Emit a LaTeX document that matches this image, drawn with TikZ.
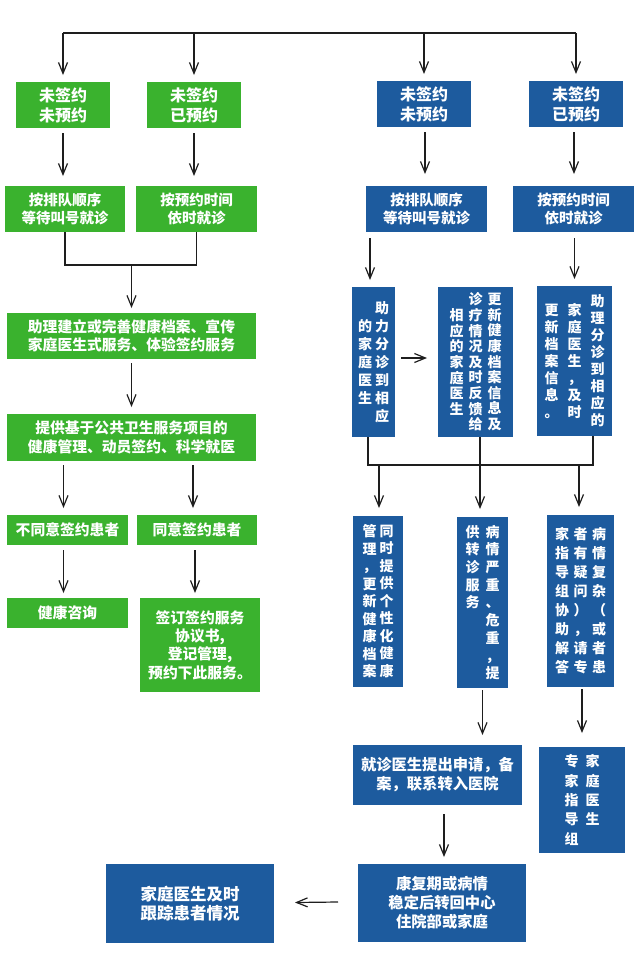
\documentclass[tikz,border=0pt]{standalone}
\usepackage{fontspec}
\setmainfont{Noto Sans CJK SC}
\usetikzlibrary{arrows.meta,calc}
\definecolor{gfill}{RGB}{58,178,46}
\definecolor{bfill}{RGB}{29,91,158}
\definecolor{lncol}{RGB}{30,30,30}
\makeatletter
\def\vst@ck#1{\ifx#1\@nil\else\hbox to 1em{\hss#1\hss}\expandafter\vst@ck\fi}
\newcommand\vcolc[2]{$\vcenter{\baselineskip=#1pt\lineskiplimit=-20pt\vst@ck#2\@nil}$}
\newcommand\vcolt[2]{\vtop{\baselineskip=#1pt\lineskiplimit=-20pt\vst@ck#2\@nil}}
\makeatother
\begin{document}
\begin{tikzpicture}[x=1pt,y=-1pt,
  box/.style={inner sep=0pt, outer sep=0pt, text=white, align=center},
  gbox/.style={box, fill=gfill},
  bbox/.style={box, fill=bfill},
  vbox/.style={inner sep=0pt, outer sep=0pt, text=white, fill=bfill, font=\bfseries\fontsize{14}{17}\selectfont},
  fA/.style={font=\bfseries\fontsize{16}{20}\selectfont},
  fB/.style={font=\bfseries\fontsize{14.5}{17.5}\selectfont},
  fC/.style={font=\bfseries\fontsize{14.8}{18.3}\selectfont},
  fD/.style={font=\bfseries\fontsize{15.3}{19}\selectfont},
  fE/.style={font=\bfseries\fontsize{16.5}{19.5}\selectfont},
  arr/.style={-{Straight Barb[length=11pt,width=9pt]}, line width=1.2pt, draw=lncol},
  ln/.style={line width=1.2pt, draw=lncol}]
\useasboundingbox (0,0) rectangle (640,975);

% ---- green column ----
\node[gbox,fA,minimum width=94pt,minimum height=46pt] (g1) at (63,105) {未签约\\未预约};
\node[gbox,fA,minimum width=94pt,minimum height=46pt] (g2) at (194,105) {未签约\\已预约};
\node[gbox,fB,minimum width=120pt,minimum height=46pt] (g3) at (65,209) {按排队顺序\\等待叫号就诊};
\node[gbox,fB,minimum width=121pt,minimum height=46pt] (g4) at (196.5,209) {按预约时间\\依时就诊};
\node[gbox,fC,minimum width=249pt,minimum height=46pt] (g5) at (131.5,336) {助理建立或完善健康档案、宣传\\家庭医生式服务、体验签约服务};
\node[gbox,fC,minimum width=249pt,minimum height=47pt] (g6) at (131.5,437.5) {提供基于公共卫生服务项目的\\健康管理、动员签约、科学就医};
\node[gbox,fC,minimum width=121pt,minimum height=30pt] (g7) at (67.5,530) {不同意签约患者};
\node[gbox,fC,minimum width=120pt,minimum height=30pt] (g8) at (197,530) {同意签约患者};
\node[gbox,fC,minimum width=121pt,minimum height=30pt] (g9) at (67.5,613) {健康咨询};
\node[gbox,fC,minimum width=120pt,minimum height=94pt] (g10) at (200,645) {签订签约服务\\协议书,\\登记管理,\\预约下此服务。};

% ---- blue column ----
\node[bbox,fA,minimum width=94pt,minimum height=46pt] (b1) at (424,104) {未签约\\未预约};
\node[bbox,fA,minimum width=94pt,minimum height=46pt] (b2) at (576,104) {未签约\\已预约};
\node[bbox,fB,minimum width=121pt,minimum height=46pt] (b3) at (426.5,209) {按排队顺序\\等待叫号就诊};
\node[bbox,fB,minimum width=121pt,minimum height=46pt] (b4) at (573.5,209) {按预约时间\\依时就诊};

\node[vbox,minimum width=43pt,minimum height=150pt] (vA) at (373.5,362) {\vcolc{18}{的家庭医生}\kern3pt\vcolc{18}{助力分诊到相应}};
\node[vbox,minimum width=75pt,minimum height=150pt] (vB) at (475.5,362) {\vcolc{15.6}{相应的家庭医生}\kern5pt\vcolc{15.6}{诊疗情况及时反馈给}\kern5pt\vcolc{15.6}{更新健康档案信息及}};
\node[vbox,minimum width=75pt,minimum height=150pt] (vC) at (574.5,361) {\vcolc{17}{更新档案信息。}\kern9pt\vcolc{17}{家庭医生，及时}\kern9pt\vcolc{17}{助理分诊到相应的}};

\node[vbox,minimum width=50pt,minimum height=171pt] (vD) at (378,601.5) {\vcolc{17.5}{管理，更新健康档案}\kern3pt\vcolc{17.5}{同时提供个性化健康}};
\node[vbox,minimum width=51pt,minimum height=171pt] (vE) at (482.5,602.5) {\vcolt{17.7}{供转诊服务}\kern6pt\vcolt{17.7}{病情严重、危重，提}};
\node[vbox,minimum width=67pt,minimum height=172pt] (vF) at (580.5,601) {\vcolc{19}{家指导组协助解答}\kern4.5pt\vcolc{19}{者有疑问），请专}\kern4.5pt\vcolc{19}{病情复杂（或者患}};

\node[bbox,fD,minimum width=169pt,minimum height=60pt] (b5) at (437.5,775) {就诊医生提出申请，备\\案，联系转入医院};
\node[vbox,minimum width=86pt,minimum height=106pt] (vG) at (582,800) {\vcolt{19.3}{专家指导组}\kern7pt\vcolt{19.3}{家庭医生}};
\node[bbox,fD,minimum width=168pt,minimum height=78pt] (b6) at (442,903) {康复期或病情\\稳定后转回中心\\住院部或家庭};
\node[bbox,fE,minimum width=168pt,minimum height=79pt] (b7) at (190,903.5) {家庭医生及时\\跟踪患者情况};

% ---- connectors ----
\coordinate (top) at (0,33);
\draw[ln] (g1.north |- top) -- (b2.north |- top);
\foreach \n in {g1,g2,b1,b2} \draw[arr] (\n.north |- top) -- ($(\n.north)+(0,-7)$);

\draw[arr] ($(g1.south)+(0,5)$) -- ($(g1.south |- g3.north)+(0,-10)$);
\draw[arr] ($(g2.south)+(0,5)$) -- ($(g2.south |- g4.north)+(0,-10)$);
\draw[arr] ($(b1.south)+(1,5)$) -- ($(b1.south |- b3.north)+(1,-12)$);
\draw[arr] ($(b2.south)+(-2,5)$) -- ($(b2.south |- b4.north)+(-2,-12)$);

\coordinate (j1) at ($(g3.south)+(0,33)$);
\draw[ln] (g3.south) -- (j1) -| (g4.south);
\draw[arr] (g5.north |- j1) -- ($(g5.north)+(0,-5)$);
\draw[arr] ($(g5.south)+(0,4)$) -- ($(g6.north)+(0,-7)$);
\draw[arr] ($(g6.south -| g7.north)+(-4,4)$) -- ($(g7.north)+(-4,-7)$);
\draw[arr] ($(g6.south -| g8.north)+(-4,4)$) -- ($(g8.north)+(-4,-7)$);
\draw[arr] ($(g7.south)+(-4,5)$) -- ($(g9.north)+(-4,-5)$);
\draw[arr] ($(g8.south)+(-2,5)$) -- ($(g8.south |- g10.north)+(-2,-5)$);

\draw[arr] ($(b3.south -| vA.north)+(-3.5,6)$) -- ($(vA.north)+(-3.5,-7)$);
\draw[arr] ($(b4.south -| vC.north)+(0,6)$) -- ($(vC.north)+(0,-7)$);
\draw[arr] ($(vA.east)+(6,-4)$) -- ($(vB.west)+(-11,-4)$);

\coordinate (busL) at ($(vA.south)+(-5.5,28)$);
\coordinate (busR) at ($(vC.south)+(18.5,29)$);
\draw[ln] ($(vA.south)+(-5.5,0)$) -- (busL) -- (busR) -- ($(vC.south)+(18.5,0)$);
\draw[ln] ($(vB.south)+(4.5,0)$) -- ($(vB.south)+(4.5,28)$);
\draw[arr] ($(vD.north |- busL)+(1,0)$) -- ($(vD.north)+(1,-8)$);
\draw[arr] ($(vE.north |- busL)+(-2.5,0)$) -- ($(vE.north)+(-2.5,-8)$);
\draw[arr] ($(vF.north |- busL)+(-1.5,0)$) -- ($(vF.north)+(-1.5,-8)$);

\draw[arr] ($(vE.south)+(0,2)$) -- ($(vE.south |- b5.north)+(0,-10)$);
\draw[arr] ($(vF.south)+(1.5,2)$) -- ($(vF.south |- vG.north)+(1.5,-14)$);
\draw[arr] ($(b5.south -| b6.north)+(2,9)$) -- ($(b6.north)+(2,-7)$);
\draw[arr] ($(b6.west)+(-20,-1)$) -- ($(b7.east)+(21,-1)$);
\end{tikzpicture}
\end{document}
